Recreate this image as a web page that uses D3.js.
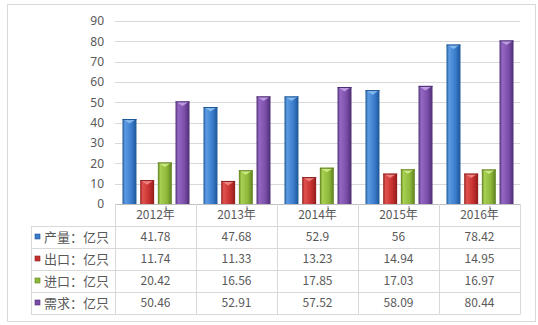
<!DOCTYPE html>
<html><head><meta charset="utf-8">
<script src="https://cdn.jsdelivr.net/npm/d3@7"></script>
<style>
html,body{margin:0;padding:0;background:#fff;}
svg{display:block;}
text{font-family:"Noto Sans CJK SC","Noto Sans",sans-serif;fill:#595959;}
</style></head>
<body>
<script>
const categories = ["2012年","2013年","2014年","2015年","2016年"];
const seriesNames = ["产量：亿只","出口：亿只","进口：亿只","需求：亿只"];
const production = [41.78,47.68,52.9,56,78.42];
const exportVals = [11.74,11.33,13.23,14.94,14.95];
const importVals = [20.42,16.56,17.85,17.03,16.97];
const demand = [50.46,52.91,57.52,58.09,80.44];
const yTicks = [0,10,20,30,40,50,60,70,80,90];
const seriesValues = [production, exportVals, importVals, demand];
const colors = [
  {dark:"#1d5596", mid:"#3a7ccb", light:"#5d9ce3", top:"#8cc0f2"},
  {dark:"#8e1d1c", mid:"#c5302e", light:"#e0524f", top:"#f08a88"},
  {dark:"#5e7f1f", mid:"#8db83a", light:"#a8d052", top:"#d2ec8a"},
  {dark:"#4c2c73", mid:"#7a4ea8", light:"#9568c4", top:"#c3a3e6"}
];

const W=538,H=325;
const svg=d3.select("body").append("svg").attr("width",W).attr("height",H);
const defs=svg.append("defs");
colors.forEach((c,i)=>{
  const g=defs.append("linearGradient").attr("id","g"+i).attr("x1","0").attr("x2","1").attr("y1","0").attr("y2","0");
  g.append("stop").attr("offset","0%").attr("stop-color",c.dark);
  g.append("stop").attr("offset","18%").attr("stop-color",c.light);
  g.append("stop").attr("offset","65%").attr("stop-color",c.mid);
  g.append("stop").attr("offset","100%").attr("stop-color",c.dark);
});

// outer frame
svg.append("rect").attr("x",7.5).attr("y",4.5).attr("width",528).attr("height",317)
  .attr("fill","#fff").attr("stroke","#d9d9d9");

const plotL=115, plotR=520, plotT=21, plotB=204;
const x=d3.scaleBand().domain(categories).range([plotL,plotR]);
const xs=d3.scaleBand().domain(d3.range(4)).range([7.5,74.5]).paddingInner(0.21);
const y=d3.scaleLinear().domain([0,90]).range([plotB,plotT]);

// gridlines
svg.append("g").selectAll("line").data(yTicks.filter(d=>d>0)).join("line")
  .attr("x1",plotL).attr("x2",plotR)
  .attr("y1",d=>Math.round(y(d))+0.5).attr("y2",d=>Math.round(y(d))+0.5)
  .attr("stroke","#d9d9d9").attr("stroke-width",1);

// y axis labels
const yAxis=d3.axisLeft(y).tickValues(yTicks).tickSize(0).tickPadding(0);
const ya=svg.append("g").attr("transform",`translate(104,0)`).call(yAxis);
ya.select(".domain").remove();
ya.selectAll("text").attr("font-size","12px").attr("fill","#595959")
  .style("font-family","'Noto Sans','Noto Sans CJK SC',sans-serif");

// bars
const groups=svg.append("g").selectAll("g").data(categories).join("g")
  .attr("transform",d=>`translate(${x(d)},0)`);
groups.each(function(cat,ci){
  const g=d3.select(this);
  seriesValues.forEach((vals,si)=>{
    const bx=xs(si), bw=xs.bandwidth(), by=y(vals[ci]), bh=plotB-by;
    g.append("rect").attr("x",bx).attr("y",by).attr("width",bw).attr("height",bh)
      .attr("fill",`url(#g${si})`);
    // top bevel
    g.append("path").attr("d",`M${bx+1},${by+0.5} L${bx+bw-1},${by+0.5} L${bx+bw/2},${by+4.5} Z`)
      .attr("fill",colors[si].top).attr("opacity",0.9);
    g.append("line").attr("x1",bx).attr("x2",bx+bw).attr("y1",by+0.5).attr("y2",by+0.5)
      .attr("stroke",colors[si].dark).attr("stroke-width",1);
  });
});

// table
const rowTop=[204,226,248,270,292];
const rowH=22;
const tbl=svg.append("g");
const lineC="#d9d9d9";
// horizontal lines
tbl.append("line").attr("x1",plotL).attr("x2",plotR).attr("y1",204.5).attr("y2",204.5).attr("stroke","#bfbfbf");
[226,248,270,292,314].forEach(yy=>{
  tbl.append("line").attr("x1",31).attr("x2",plotR).attr("y1",yy+0.5).attr("y2",yy+0.5).attr("stroke",lineC);
});
// vertical lines
tbl.append("line").attr("x1",31.5).attr("x2",31.5).attr("y1",226).attr("y2",314.5).attr("stroke",lineC);
[plotL, ...categories.map(c=>x(c)+x.bandwidth())].forEach(xx=>{
  tbl.append("line").attr("x1",Math.round(xx)+0.5).attr("x2",Math.round(xx)+0.5).attr("y1",204).attr("y2",314.5).attr("stroke",lineC);
});
// small category marks
categories.forEach(c=>{
  tbl.append("line").attr("x1",x(c)+x.bandwidth()/2+10.5).attr("x2",x(c)+x.bandwidth()/2+10.5)
    .attr("y1",206).attr("y2",209).attr("stroke","#7f7f7f");
});
// header
tbl.selectAll("text.hdr").data(categories).join("text").attr("class","hdr")
  .attr("x",d=>x(d)+x.bandwidth()/2).attr("y",215).attr("dy","0.36em")
  .attr("text-anchor","middle").attr("font-size","12px").text(d=>d);
// rows
seriesNames.forEach((name,si)=>{
  const cy=226+si*rowH+11;
  tbl.append("rect").attr("x",35).attr("y",cy-3).attr("width",5).attr("height",5)
    .attr("fill",colors[si].mid).attr("stroke",colors[si].dark).attr("stroke-width",0.6);
  tbl.append("text").attr("x",44).attr("y",cy).attr("dy","0.36em")
    .attr("font-size","13px").text(name);
  tbl.selectAll(null).data(seriesValues[si]).join("text")
    .attr("x",(d,i)=>x(categories[i])+x.bandwidth()/2).attr("y",cy).attr("dy","0.36em")
    .attr("text-anchor","middle").attr("font-size","12px").text(d=>d);
});
</script>
</body></html>
